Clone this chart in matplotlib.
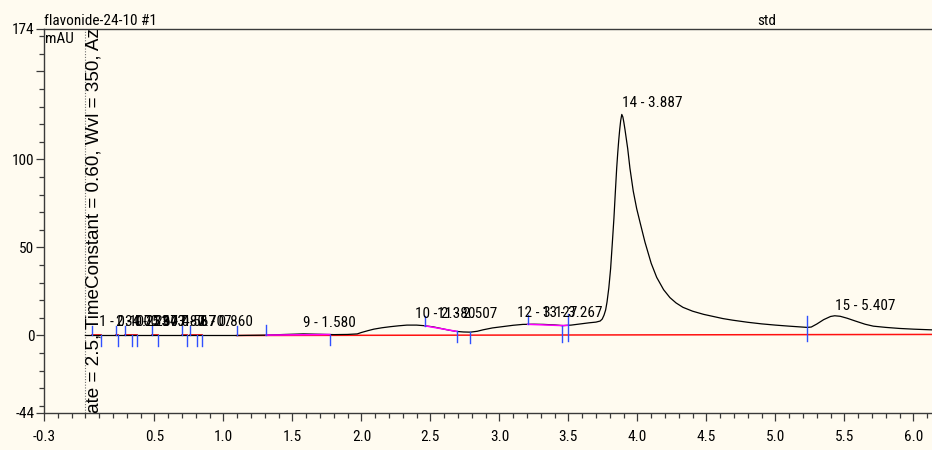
import numpy as np
import matplotlib.pyplot as plt
from matplotlib.ticker import MultipleLocator, FixedLocator

# chromatogram trace, time (min) vs absorbance (mAU)
time_min = [0.00, 0.50, 1.00, 1.10, 1.30, 1.45, 1.58, 1.70, 1.80, 1.90, 1.97,
            2.00, 2.05, 2.09, 2.15, 2.21, 2.27, 2.33, 2.40, 2.45, 2.52, 2.57,
            2.63, 2.69, 2.74, 2.79, 2.84, 2.88, 2.95, 3.03, 3.10, 3.17, 3.25,
            3.32, 3.40, 3.46, 3.52, 3.58, 3.65, 3.70, 3.73, 3.745, 3.758,
            3.77, 3.78, 3.793, 3.806, 3.818, 3.83, 3.84, 3.85, 3.858, 3.865,
            3.872, 3.879, 3.887, 3.895, 3.902, 3.91, 3.93, 3.946, 3.97, 3.995,
            4.02, 4.055, 4.10, 4.14, 4.19, 4.236, 4.28, 4.33, 4.40, 4.48,
            4.55, 4.62, 4.69, 4.80, 4.90, 5.00, 5.10, 5.23, 5.26, 5.30, 5.35,
            5.40, 5.43, 5.47, 5.52, 5.58, 5.65, 5.71, 5.80, 5.90, 6.00, 6.135]
signal_mau = [0.0, 0.0, 0.0, 0.0, 0.2, 0.6, 0.9, 0.7, 0.5, 0.6, 0.9,
              1.7, 2.8, 3.6, 4.4, 5.0, 5.5, 5.9, 5.9, 5.6, 4.9, 4.1,
              3.1, 2.3, 2.0, 1.9, 2.4, 3.2, 4.3, 5.1, 5.8, 6.3, 6.4,
              6.3, 6.0, 5.6, 5.9, 6.5, 7.2, 7.6, 8.2, 9.3, 11.5,
              14.5, 19.0, 27.0, 37.9, 52.0, 66.5, 81.0, 95.0, 104.0, 111.0,
              117.0, 122.0, 125.5, 124.0, 121.0, 117.0, 106.0, 95.0, 82.0, 72.0,
              64.0, 53.0, 41.0, 33.0, 26.0, 21.5, 18.5, 16.0, 13.8, 12.0,
              10.8, 9.6, 8.7, 7.5, 6.6, 5.9, 5.3, 4.6, 4.8, 6.5, 9.0,
              10.8, 11.2, 10.9, 9.8, 8.2, 6.4, 5.3, 4.6, 4.0, 3.6, 3.2]

# main red baseline
baseline_time = [1.096, 6.135]
baseline_mau = [0.0, 0.6]

# red baselines of the small early peaks
early_start = [0.046, 0.220, 0.287, 0.480, 0.698, 0.758]
early_end = [0.111, 0.238, 0.376, 0.524, 0.734, 0.843]

# magenta peak baselines
pk_start = [1.309, 2.461, 3.205, 3.456]
pk_end = [1.772, 2.695, 3.456, 3.500]

# blue peak delimiters
marker_time = [0.046, 0.111, 0.220, 0.238, 0.287, 0.340, 0.376, 0.480, 0.524,
               0.698, 0.734, 0.758, 0.807, 0.843, 1.096, 1.309, 1.772, 2.461,
               2.695, 2.787, 3.205, 3.456, 3.500, 5.230]
marker_kind = ['up', 'down', 'up', 'down', 'up', 'down', 'down', 'up', 'down',
               'up', 'down', 'up', 'down', 'down', 'up', 'up', 'down', 'up',
               'down', 'down', 'up', 'down', 'both', 'both']

# peak labels
peak_no = [1, 2, 3, 4, 5, 6, 7, 8, 9, 10, 11, 12, 13, 14, 15]
peak_rt = [0.107, 0.233, 0.297, 0.343, 0.487, 0.567, 0.707, 0.860, 1.580,
           2.380, 2.507, 3.127, 3.267, 3.887, 5.407]
label_x = [0.100, 0.225, 0.290, 0.335, 0.480, 0.560, 0.680, 0.830, 1.577,
           2.385, 2.545, 3.130, 3.310, 3.890, 5.430]
label_y = [1.5, 1.5, 1.5, 1.5, 1.5, 1.5, 1.5, 1.5, 0.9,
           6.0, 6.0, 6.4, 6.4, 125.5, 10.8]

bg = '#fffbf0'
axcol = '#3a3a3a'
narrow = ['Liberation Sans Narrow', 'Roboto Condensed', 'DejaVu Sans']

fig = plt.figure(figsize=(9.32, 4.5), dpi=100, facecolor=bg)
ax = fig.add_axes([44 / 932, 37 / 450, 888 / 932, 384 / 450])
ax.set_facecolor(bg)
ax.set_xlim(-0.3, 6.135)
ax.set_ylim(-44, 174)

# dotted injection line and the method text
ax.axvline(0.0, color='#707070', lw=0.8, ls=(0, (1, 1.5)))
ax.text(0.065, -73, "Flow rate = 2.5, TimeConstant = 0.60, Wvl = 350, Azimuth = 0",
        rotation=90, ha='center', va='bottom', fontsize=13.6,
        family=['Liberation Sans', 'DejaVu Sans'], clip_on=True)

# baselines
ax.plot(baseline_time, baseline_mau, color='#ff1010', lw=1.1)
for s, e in zip(early_start, early_end):
    ax.plot([s, e], [0, 0], color='#ff1010', lw=1.3)

ax.plot(time_min, signal_mau, color='black', lw=0.9)

for s, e in zip(pk_start, pk_end):
    ys = np.interp([s, e], time_min, signal_mau)
    ax.plot([s, e], ys, color='#ff00ff', lw=1.1)

for t, k in zip(marker_time, marker_kind):
    s = np.interp(t, time_min, signal_mau)
    if k == 'up':
        lo, hi = s, s + 5.5
    elif k == 'down':
        lo, hi = min(s - 6, -3.5), s
    else:
        lo, hi = -3.0, s + 6.2
    ax.plot([t, t], [lo, hi], color='#3050ff', lw=1.0)

for n, rt, lx, ly in zip(peak_no, peak_rt, label_x, label_y):
    ax.annotate(f"{n} - {rt:.3f}", (lx, ly), xytext=(0, 5),
                textcoords='offset points', ha='left', va='baseline',
                fontsize=11, family=narrow, fontstretch='condensed')

# axes styling
for side in ['left', 'bottom', 'top']:
    ax.spines[side].set_color(axcol)
    ax.spines[side].set_linewidth(1.0)
ax.spines['right'].set_visible(False)

xt = [-0.3, 0.5, 1.0, 1.5, 2.0, 2.5, 3.0, 3.5, 4.0, 4.5, 5.0, 5.5, 6.0]
ax.xaxis.set_major_locator(FixedLocator(xt))
ax.set_xticklabels([f"{v:.1f}" for v in xt])
ax.xaxis.set_minor_locator(MultipleLocator(0.1))
yt = [-44, 0, 50, 100, 150, 174]
ax.yaxis.set_major_locator(FixedLocator(yt))
ax.set_yticklabels(['-44', '0', '50', '100', '', '174'])
ax.yaxis.set_minor_locator(MultipleLocator(10))
ax.tick_params(which='major', length=6, width=0.9, color=axcol, pad=6,
               labelsize=11)
ax.tick_params(which='minor', length=3.5, width=0.9, color=axcol)
ax.tick_params(axis='y', pad=1)
for lab in ax.get_xticklabels() + ax.get_yticklabels():
    lab.set_family(narrow)
    lab.set_stretch('condensed')

fig.text(44 / 932, 1 - 25 / 450, "flavonide-24-10 #1", ha='left',
         va='baseline', fontsize=11, family=narrow, stretch='condensed')
fig.text(757 / 932, 1 - 25 / 450, "std", ha='left', va='baseline',
         fontsize=11, family=narrow, stretch='condensed')
fig.text(45 / 932, 1 - 32 / 450, "mAU", ha='left', va='top',
         fontsize=11, family=narrow, stretch='condensed')

fig.savefig('out.png', dpi=100, facecolor=bg)
